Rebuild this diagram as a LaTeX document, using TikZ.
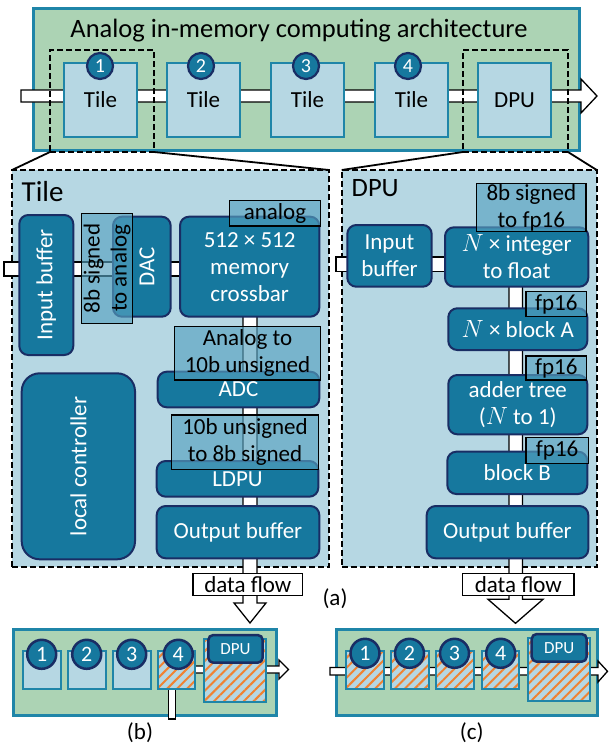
\documentclass[tikz,border=0pt]{standalone}
\usepackage{fontspec}
\setmainfont{Carlito}
\usetikzlibrary{patterns.meta}
\definecolor{gbg}{RGB}{172,211,180}
\definecolor{tealb}{RGB}{31,133,168}
\definecolor{tileblue}{RGB}{182,215,227}
\definecolor{dkteal}{RGB}{22,120,158}
\definecolor{navy}{RGB}{25,45,100}
\definecolor{lblfill}{RGB}{87,162,192}
\definecolor{orng}{RGB}{240,130,50}
\newcommand{\bx}[7]{\node[#1,anchor=north west,minimum width={(#5-#3)*1pt},minimum height={(#6-#4)*1pt}] (#2) at (#3,#4) {#7};}
\newcommand{\rbx}[7]{\node[#1,rotate=90,minimum width={(#6-#4)*1pt},minimum height={(#5-#3)*1pt}] (#2) at ({(#3+#5)/2},{(#4+#6)/2}) {#7};}
\begin{document}
\begin{tikzpicture}[x=1pt,y=-1pt,
  every node/.style={inner sep=0pt, outer sep=0pt, align=center, font=\fontsize{23}{27}\selectfont},
  dk/.style={rounded corners=9pt, fill=dkteal, draw=navy, line width=2pt, text=white},
  lbl/.style={fill=lblfill, fill opacity=0.65, text opacity=1, draw=black, line width=1.2pt},
  tileS/.style={fill=tileblue, draw=tealb, line width=2.5pt},
  grn/.style={fill=gbg, draw=tealb, line width=3pt},
  dsh/.style={draw=black, line width=2pt, dash pattern=on 6pt off 3pt},
  panel/.style={fill=tileblue, draw=black, line width=2pt, dash pattern=on 6pt off 3pt},
  pipe/.style={fill=white, draw=black, line width=1.3pt},
  flowlbl/.style={fill=white, draw=black, line width=1.5pt},
  circ/.style={circle, fill=dkteal, draw=navy, line width=2.2pt, text=white, minimum size=26pt, font=\fontsize{20}{22}\selectfont},
  bcirc/.style={circ, minimum size=29pt, line width=2.5pt, font=\fontsize{22}{24}\selectfont},
  hatch/.style={preaction={fill=tileblue}, pattern={Lines[angle=45,distance=7pt,line width=2pt]}, pattern color=orng, draw=tealb, line width=2pt},
  stile/.style={fill=tileblue, draw=tealb, line width=2pt},
  sdpu/.style={rounded corners=5pt, fill=dkteal, draw=navy, line width=2.5pt, text=white, font=\fontsize{17}{20}\selectfont},
  trap/.style={draw=black, line width=1.8pt}
]
\useasboundingbox (0,0) rectangle (608,747);

% ---------- top architecture ----------
\bx{grn}{arch}{33}{8}{579}{150}{}
\node[anchor=base, font=\fontsize{26.5}{30}\selectfont] (title) at (299,37) {Analog in-memory computing architecture};
\draw[pipe] (21,90) -- (581,90) -- (581,79) -- (597,96) -- (581,113) -- (581,102) -- (21,102) -- cycle;
\bx{tileS}{t1}{64}{63}{137}{137}{Tile}
\bx{tileS}{t2}{167}{63}{240}{137}{Tile}
\bx{tileS}{t3}{271}{63}{344}{137}{Tile}
\bx{tileS}{t4}{375}{63}{448}{137}{Tile}
\bx{tileS}{tdpu}{478}{63}{551}{137}{DPU}
\node[circ] (c1) at (100,66) {1};
\node[circ] (c2) at (201,66) {2};
\node[circ] (c3) at (306,66) {3};
\node[circ] (c4) at (408,66) {4};
\bx{dsh}{d1}{50}{50}{154}{152}{}
\bx{dsh}{d2}{463}{50}{568}{152}{}

% ---------- tile panel ----------
\bx{panel}{tp}{12}{170}{329}{567}{}
\draw[trap] (d1.south west) -- (tp.north west);
\draw[trap] (d1.south east) -- (tp.north east);
\node[anchor=base west, font=\fontsize{29}{32}\selectfont] (tptitle) at (21.7,201.7) {Tile};
\draw[pipe] (4,262) rectangle (250,276);
\draw[pipe] (243,280) -- (243,603) -- (234,603) -- (250,623) -- (266,603) -- (257,603) -- (257,280) -- cycle;
\rbx{dk}{ib}{19.3}{215}{73.3}{355}{Input buffer}
\bx{dk}{dac}{113}{216.7}{170.7}{316.7}{}
\node[rotate=90, text=white] (dactxt) at (147,266.7) {DAC};
\bx{dk}{xbar}{180}{216.7}{319.3}{316.7}{512 × 512\\memory\\crossbar}
\bx{dk}{adc}{157.7}{371.7}{319.3}{407.3}{ADC}
\bx{dk}{ldpu}{156.7}{461}{318.3}{496.7}{LDPU}
\bx{dk}{ob}{156.7}{506}{319.3}{558.3}{Output buffer}
\rbx{dk,rounded corners=18pt}{lc}{21.7}{373.3}{135}{559.3}{local controller}
\rbx{lbl}{l1}{81.7}{213.3}{132.7}{323.3}{8b signed\\to analog}
\bx{lbl}{l2}{229.3}{200.7}{320.7}{226}{analog}
\bx{lbl}{l3}{174.3}{326.7}{320.7}{380}{Analog to\\10b unsigned}
\bx{lbl}{l4}{171.7}{415}{318.3}{469.3}{10b unsigned\\to 8b signed}
\bx{flowlbl}{f1}{193}{573.3}{302.7}{595.7}{data flow}

% ---------- DPU panel ----------
\bx{panel}{dp}{341.7}{170}{596.7}{567}{}
\draw[trap] (d2.south west) -- (dp.north west);
\draw[trap] (d2.south east) -- (dp.north east);
\node[anchor=base west, font=\fontsize{26.5}{30}\selectfont] (dptitle) at (351.7,196.7) {DPU};
\draw[pipe] (336,257) rectangle (517,271.5);
\draw[pipe] (509,275) -- (509,599.3) -- (488,599.3) -- (515.5,623.3) -- (543,599.3) -- (522.5,599.3) -- (522.5,275) -- cycle;
\bx{dk}{dib}{347.3}{225}{431.7}{286.7}{Input\\buffer}
\bx{dk}{itf}{445}{227.3}{588.3}{286.7}{$N$ × integer\\to float}
\bx{dk}{ba}{448.3}{308.3}{587.3}{350}{$N$ × block A}
\bx{dk}{at}{448.3}{375}{587.3}{434.3}{adder tree\\($N$ to 1)}
\bx{dk}{bb}{447.3}{451.7}{587.3}{494}{block B}
\bx{dk}{dob}{426.7}{506}{588.3}{558.3}{Output buffer}
\bx{lbl}{m1}{476.7}{183.3}{586}{231.7}{8b signed\\to fp16}
\bx{lbl}{m2}{526}{291.7}{586.7}{316.7}{fp16}
\bx{lbl}{m3}{526}{356}{586.7}{380}{fp16}
\bx{lbl}{m4}{526}{437.7}{588.3}{463.3}{fp16}
\bx{flowlbl}{f2}{462.7}{573.3}{574}{595.5}{data flow}

\node (la) at (335,599) {(a)};

% ---------- (b) ----------
\bx{grn}{gb}{13.3}{629.3}{276}{715}{}
\draw[pipe] (190,666) -- (279,666) -- (279,660) -- (288.5,669.5) -- (279,679) -- (279,673) -- (190,673) -- cycle;
\draw[pipe] (168.3,680) rectangle (175.7,719);
\bx{stile}{b1}{22.7}{651}{60.7}{689}{}
\bx{stile}{b2}{68.3}{651}{106}{689}{}
\bx{stile}{b3}{113.3}{651}{151}{689}{}
\bx{hatch}{b4}{158.3}{651}{195}{689}{}
\bx{hatch}{bd}{204.3}{639.3}{266}{701.7}{}
\bx{sdpu}{bdl}{208.3}{635}{262.7}{662.7}{DPU}
\node[bcirc] (bc1) at (41.7,654.3) {1};
\node[bcirc] (bc2) at (86.7,654.3) {2};
\node[bcirc] (bc3) at (131.7,654.3) {3};
\node[bcirc] (bc4) at (178.3,654.3) {4};
\node (lb) at (140,733) {(b)};

% ---------- (c) ----------
\bx{grn}{gc}{336.7}{629.3}{597.7}{715}{}
\draw[pipe] (330,667.5) -- (598,667.5) -- (598,661) -- (607.5,671.3) -- (598,682) -- (598,675) -- (330,675) -- cycle;
\bx{hatch}{c1t}{346}{651}{383.5}{689}{}
\bx{hatch}{c2t}{391}{651}{428.5}{689}{}
\bx{hatch}{c3t}{436}{651}{473.5}{689}{}
\bx{hatch}{c4t}{481.7}{651}{519.2}{689}{}
\bx{hatch}{cd}{528.3}{638.3}{590}{701}{}
\bx{sdpu}{cdl}{531.7}{634}{586.7}{661.7}{DPU}
\node[bcirc] (cc1) at (365,653.3) {1};
\node[bcirc] (cc2) at (409.5,653.3) {2};
\node[bcirc] (cc3) at (454.5,653.3) {3};
\node[bcirc] (cc4) at (500.7,653.3) {4};
\node (lc2) at (471.7,733) {(c)};
\end{tikzpicture}
\end{document}
